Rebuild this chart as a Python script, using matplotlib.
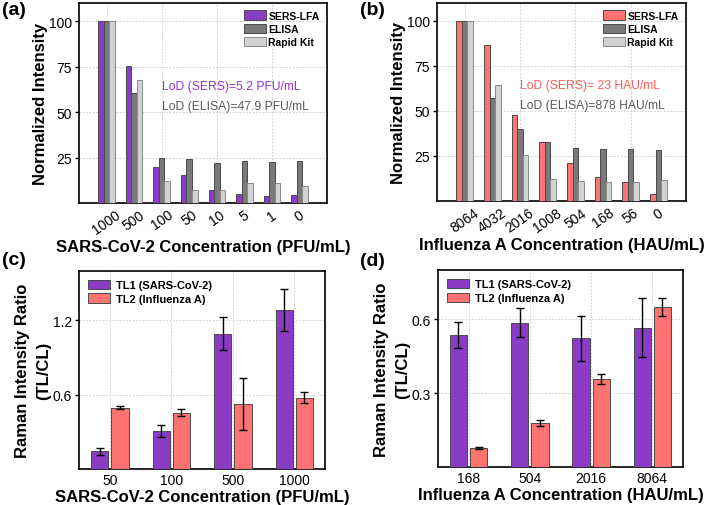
import numpy as np
import matplotlib
matplotlib.use("Agg")
import matplotlib.pyplot as plt

plt.rcParams['font.family'] = ['Liberation Sans', 'DejaVu Sans']

# (a) SARS-CoV-2 comparison
cov_conc = ["1000", "500", "100", "50", "10", "5", "1", "0"]
cov_sers = [100, 75.3, 19.6, 15.4, 7.1, 4.9, 4.0, 4.4]
cov_elisa = [100, 60.7, 24.9, 24.3, 21.9, 22.9, 22.3, 23.0]
cov_rapid = [100, 67.8, 11.9, 7.3, 7.1, 11.0, 11.0, 9.5]

# (b) Influenza A comparison
flu_conc = ["8064", "4032", "2016", "1008", "504", "168", "56", "0"]
flu_sers = [100, 86.8, 47.7, 33.0, 21.0, 13.6, 10.7, 3.8]
flu_elisa = [100, 57.4, 39.8, 33.0, 29.4, 28.8, 28.8, 28.3]
flu_rapid = [100, 64.7, 25.3, 12.4, 10.9, 10.3, 10.7, 11.8]

# (c) multiplex, SARS-CoV-2 series
c_conc = ["50", "100", "500", "1000"]
c_tl1 = [0.142, 0.31, 1.093, 1.283]
c_tl1_err = [0.03, 0.048, 0.133, 0.169]
c_tl2 = [0.496, 0.455, 0.522, 0.576]
c_tl2_err = [0.013, 0.028, 0.21, 0.043]

# (d) multiplex, Influenza A series
d_conc = ["168", "504", "2016", "8064"]
d_tl1 = [0.537, 0.585, 0.522, 0.565]
d_tl1_err = [0.053, 0.059, 0.092, 0.12]
d_tl2 = [0.077, 0.179, 0.357, 0.651]
d_tl2_err = [0.005, 0.013, 0.02, 0.037]

PURPLE = "#8A3CC6"
SALMON = "#FF7272"
DARK = "#7A7A7A"
LIGHT = "#D2D2D2"
EDGE = "#4A4A4A"
GRID = dict(color="#C8C8C8", linestyle=(0, (2, 2)), linewidth=0.6)

fig = plt.figure(figsize=(7.08, 5.06), dpi=100)
ax_a = fig.add_axes([0.1116, 0.5968, 0.3503, 0.3953])
ax_b = fig.add_axes([0.6172, 0.6008, 0.3517, 0.3913])
ax_c = fig.add_axes([0.1116, 0.0711, 0.3475, 0.3919])
ax_d = fig.add_axes([0.6186, 0.0751, 0.3460, 0.3893])


def style(ax):
    for s in ax.spines.values():
        s.set_linewidth(1.2)
    ax.tick_params(axis="y", direction="out", length=3, width=1, labelsize=10, pad=2)
    ax.tick_params(axis="x", length=0, labelsize=10, pad=3)


def compare_panel(ax, conc, sers, elisa, rapid, color, lod_sers, lod_elisa, xlabel):
    x = np.arange(len(conc))
    w = 0.2
    ax.bar(x - w, sers, w, color=color, edgecolor=EDGE, linewidth=0.7, label="SERS-LFA", zorder=3)
    ax.bar(x, elisa, w, color=DARK, edgecolor=EDGE, linewidth=0.7, label="ELISA", zorder=3)
    ax.bar(x + w, rapid, w, color=LIGHT, edgecolor="#8A8A8A", linewidth=0.7, label="Rapid Kit", zorder=3)
    ax.set_xlim(-1, 8)
    ax.set_ylim(0, 110)
    ax.set_yticks([25, 50, 75, 100])
    ax.set_xticks(x)
    ax.set_xticklabels(conc, rotation=35, ha="center")
    for g in range(0, len(conc), 2):
        ax.axvline(g, zorder=0, **GRID)
    ax.grid(axis="y", zorder=0, **GRID)
    ax.set_ylabel("Normalized Intensity", fontsize=12, fontweight="bold", labelpad=1)
    ax.set_xlabel(xlabel, fontsize=12, fontweight="bold", labelpad=2)
    ax.text(2.0, 64.5, lod_sers, color="#9933CC" if color == PURPLE else "#FF5A5A",
            fontsize=8.7, va="center")
    ax.text(2.0, 53.5, lod_elisa, color="#5A5A5A", fontsize=8.7, va="center")
    ax.legend(loc="upper right", frameon=False,
              prop=dict(weight="bold", size=7.5), handlelength=2.1, handleheight=1.0,
              labelspacing=0.3, borderaxespad=0.3, handletextpad=0.25)
    style(ax)


def ratio_panel(ax, conc, tl1, tl1_err, tl2, tl2_err, ylim, yticks, xlabel):
    x = np.arange(len(conc))
    w = 0.28
    off = 0.165
    ekw = dict(ecolor="black", elinewidth=1.0, capsize=3, capthick=1.0)
    ax.bar(x - off, tl1, w, yerr=tl1_err, color=PURPLE, edgecolor=EDGE, linewidth=0.7,
           error_kw=ekw, label="TL1 (SARS-CoV-2)", zorder=3)
    ax.bar(x + off, tl2, w, yerr=tl2_err, color=SALMON, edgecolor=EDGE, linewidth=0.7,
           error_kw=ekw, label="TL2 (Influenza A)", zorder=3)
    ax.set_xlim(-0.5, len(conc) - 0.5)
    ax.set_ylim(*ylim)
    ax.set_yticks(yticks)
    ax.set_xticks(x)
    ax.set_xticklabels(conc)
    ax.grid(zorder=0, **GRID)
    ax.set_axisbelow(True)
    ax.set_ylabel("Raman Intensity Ratio\n(TL/CL)", fontsize=12, fontweight="bold",
                  labelpad=1, linespacing=1.5)
    ax.set_xlabel(xlabel, fontsize=12, fontweight="bold", labelpad=1)
    ax.legend(loc="upper left", frameon=False, prop=dict(weight="bold", size=8),
              handlelength=2.0, handleheight=0.9, labelspacing=0.3,
              borderaxespad=0.4, handletextpad=0.5)
    style(ax)


compare_panel(ax_a, cov_conc, cov_sers, cov_elisa, cov_rapid, PURPLE,
              "LoD (SERS)=5.2 PFU/mL", "LoD (ELISA)=47.9 PFU/mL",
              "SARS-CoV-2 Concentration (PFU/mL)")
compare_panel(ax_b, flu_conc, flu_sers, flu_elisa, flu_rapid, SALMON,
              "LoD (SERS)= 23 HAU/mL", "LoD (ELISA)=878 HAU/mL",
              "Influenza A Concentration (HAU/mL)")
ratio_panel(ax_c, c_conc, c_tl1, c_tl1_err, c_tl2, c_tl2_err, (0, 1.6), [0.6, 1.2],
            "SARS-CoV-2 Concentration (PFU/mL)")
ratio_panel(ax_d, d_conc, d_tl1, d_tl1_err, d_tl2, d_tl2_err, (0, 0.8), [0.3, 0.6],
            "Influenza A Concentration (HAU/mL)")

for lab, px, py in [("(a)", 2, 2), ("(b)", 360, 2), ("(c)", 2, 252), ("(d)", 360, 253)]:
    fig.text(px / 708, 1 - py / 506, lab, fontsize=14, fontweight="bold", va="top", ha="left")

fig.savefig("out.png", dpi=100)
